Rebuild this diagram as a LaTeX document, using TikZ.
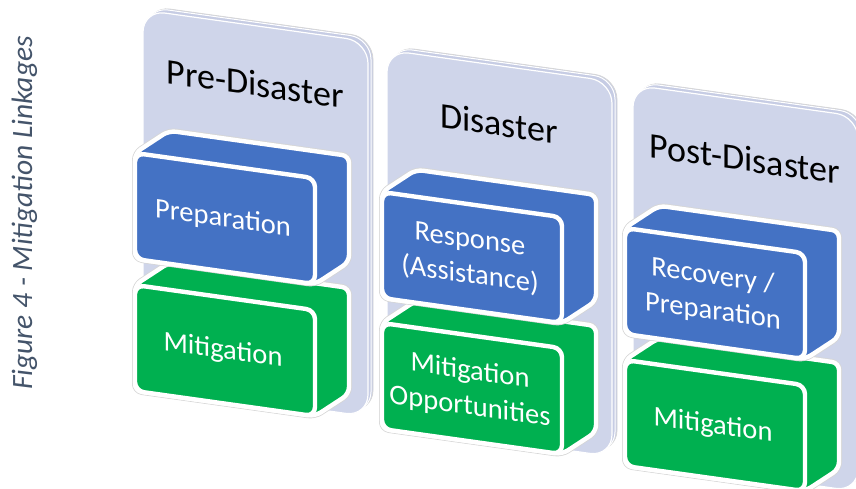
\documentclass[tikz,border=0pt]{standalone}
\usepackage{fontspec}
\setmainfont{Carlito}
\definecolor{panelfill}{HTML}{CFD5EA}
\definecolor{panelback}{HTML}{C6CCE4}
\definecolor{blueblk}{HTML}{4472C4}
\definecolor{greenblk}{HTML}{00B050}
\definecolor{captioncol}{HTML}{44546A}
\tikzset{
  blocktext/.style={text=white, font=\fontsize{28.5}{35.5}\selectfont, align=center, transform shape, inner sep=0pt},
  titletext/.style={text=black, font=\fontsize{36}{43}\selectfont, transform shape, inner sep=0pt},
  outerrim/.style={draw=black!16, line width=6pt, rounded corners=7pt, line join=round},
  whiterim/.style={draw=white, line width=4.4pt, rounded corners=7pt, line join=round},
}
\newcommand\drawpanel[2]{%
  \begin{scope}[shift={(#1,#2)}, yslant=-0.14]
    \filldraw[fill=panelback, draw=black!16, line width=0.8pt, rounded corners=22pt] (5,-4.7) rectangle (230,370);
    \draw[white, line width=1pt, rounded corners=21pt] (4,-3.5) rectangle (228,371);
    \filldraw[fill=panelfill, draw=white, line width=1.2pt, rounded corners=22pt] (0,0) rectangle (225,375);
  \end{scope}}
\newcommand\drawblock[3]{%
  \begin{scope}[shift={(#1,#2)}, yslant=-0.14]
    \path[fill=#3, outerrim] (0,0) -- (34,-27) -- (214,-27) -- (214,79) -- (180,106) -- (0,106) -- cycle;
    \path[fill=#3, whiterim] (0,0) -- (34,-27) -- (214,-27) -- (214,79) -- (180,106) -- (0,106) -- cycle;
    \path[fill=#3, whiterim, rounded corners=9pt] (0,0) rectangle (180,106);
  \end{scope}}
\begin{document}
\begin{tikzpicture}[x=1pt, y=-1pt]
\useasboundingbox (0,0) rectangle (856,489);
\clip (0,0) rectangle (856,489);

% caption
\node[rotate=90, anchor=base, inner sep=0pt, text=captioncol, font=\itshape\fontsize{29.5}{34}\selectfont] (caption) at (32,213) {Figure 4 - Mitigation Linkages};

% column 1
\drawpanel{143}{10}
\begin{scope}[shift={(143,10)}, yslant=-0.14]
  \node[titletext] (pre) at (112,58) {Pre-Disaster};
\end{scope}
\drawblock{135}{285}{greenblk}
\begin{scope}[shift={(135,285)}, yslant=-0.14]
  \node[blocktext] (mit1) at (88,54) {Mitigation};
\end{scope}
\drawblock{135}{153}{blueblk}
\begin{scope}[shift={(135,153)}, yslant=-0.14]
  \node[blocktext] (prep1) at (88,54) {Preparation};
\end{scope}

% column 2
\drawpanel{387}{50}
\begin{scope}[shift={(387,50)}, yslant=-0.14]
  \node[titletext] (dis) at (112,58) {Disaster};
\end{scope}
\drawblock{382}{323}{greenblk}
\begin{scope}[shift={(382,323)}, yslant=-0.14]
  \node[blocktext] (mit2) at (88,54) {Mitigation\\Opportunities};
\end{scope}
\drawblock{382}{192}{blueblk}
\begin{scope}[shift={(382,192)}, yslant=-0.14]
  \node[blocktext] (resp) at (88,54) {Response\\(Assistance)};
\end{scope}

% column 3
\drawpanel{633}{85}
\begin{scope}[shift={(633,85)}, yslant=-0.14]
  \node[titletext] (post) at (112,58) {Post-Disaster};
\end{scope}
\drawblock{625}{360}{greenblk}
\begin{scope}[shift={(625,360)}, yslant=-0.14]
  \node[blocktext] (mit3) at (88,54) {Mitigation};
\end{scope}
\drawblock{625}{228}{blueblk}
\begin{scope}[shift={(625,228)}, yslant=-0.14]
  \node[blocktext] (recov) at (88,54) {Recovery /\\Preparation};
\end{scope}
\end{tikzpicture}
\end{document}
